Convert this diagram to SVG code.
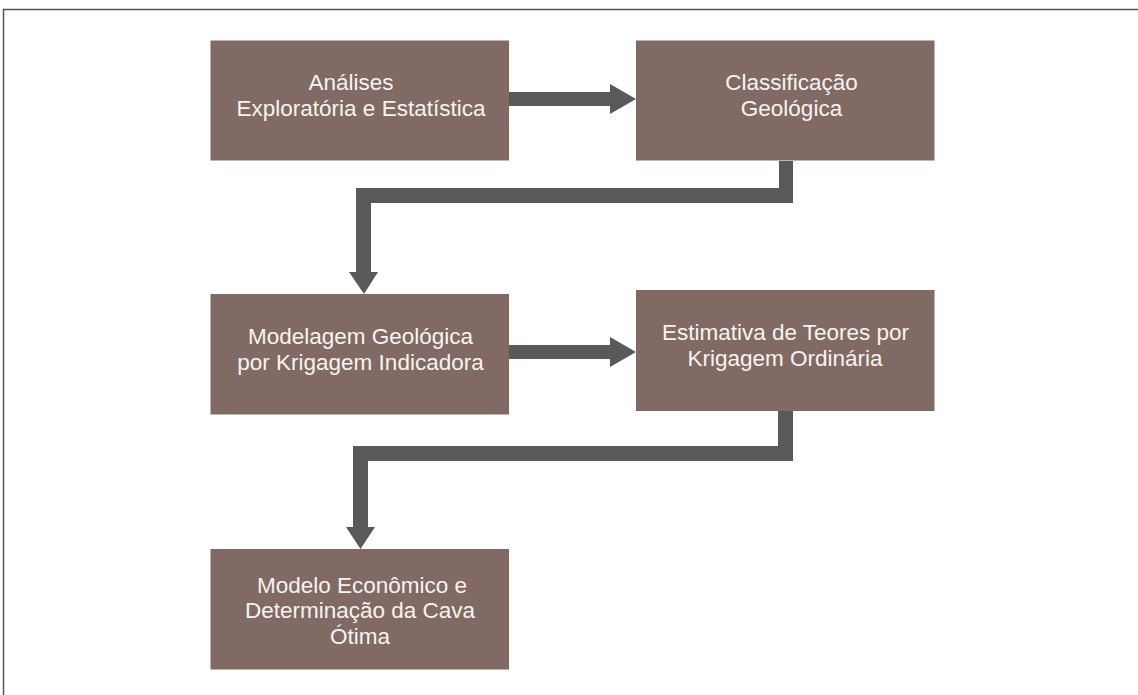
<svg xmlns="http://www.w3.org/2000/svg" width="1138" height="695" viewBox="0 0 1138 695">
<style>
.box{fill:#806a63;}
.lbl{font-family:"Liberation Sans",Arial,sans-serif;font-size:22.5px;fill:#f7f3f1;text-anchor:middle;}
.con{fill:#58595b;}
</style>
<rect width="1138" height="695" fill="#ffffff"/>
<path d="M3.5,695 V9.5 H1138" fill="none" stroke="#555555" stroke-width="1.5"/>
<g id="connectors">
<polygon class="con" points="509,92 610,92 610,84 636,99 610,114 610,106 509,106"/>
<polygon class="con" points="509,345 610,345 610,337 636,352 610,367 610,359 509,359"/>
<polygon class="con" points="779,161 793,161 793,203 371,203 371,272 378,272 364,294 349,272 356,272 356,188 779,188"/>
<polygon class="con" points="778,411 793,411 793,461 368,461 368,527 375,527 360.5,549 346,527 353,527 353,446 778,446"/>
</g>
<g id="node1">
<rect class="box" x="210.5" y="40.5" width="298.5" height="120"/>
<text class="lbl" x="351" y="90">Análises</text>
<text class="lbl" x="361" y="116">Exploratória e Estatística</text>
</g>
<g id="node2">
<rect class="box" x="636" y="40.5" width="298.5" height="120"/>
<text class="lbl" x="791.5" y="90">Classificação</text>
<text class="lbl" x="791.5" y="116">Geológica</text>
</g>
<g id="node3">
<rect class="box" x="210.5" y="294" width="298.5" height="120.5"/>
<text class="lbl" x="360.5" y="344">Modelagem Geológica</text>
<text class="lbl" x="360.5" y="370">por Krigagem Indicadora</text>
</g>
<g id="node4">
<rect class="box" x="636" y="290" width="298.5" height="121"/>
<text class="lbl" x="785.5" y="340">Estimativa de Teores por</text>
<text class="lbl" x="785" y="366">Krigagem Ordinária</text>
</g>
<g id="node5">
<rect class="box" x="210.5" y="549" width="298.5" height="120.5"/>
<text class="lbl" x="362" y="593">Modelo Econômico e</text>
<text class="lbl" x="360" y="618">Determinação da Cava</text>
<text class="lbl" x="360" y="644">Ótima</text>
</g>
</svg>
